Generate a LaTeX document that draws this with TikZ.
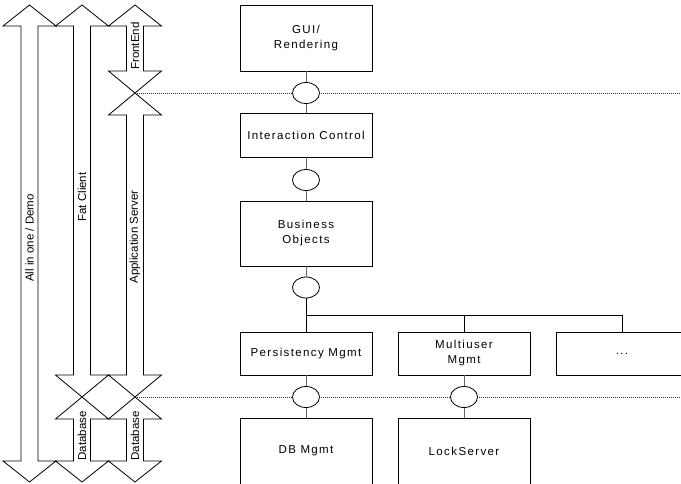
\documentclass[tikz,border=0pt]{standalone}
\usepackage{fontspec}
\setmainfont{Liberation Sans}
\newfontfamily\boxfont[LetterSpace=12]{Liberation Sans}
\newfontfamily\sidefont{Liberation Sans}
\usetikzlibrary{shapes.geometric}

\begin{document}
\begin{tikzpicture}[x=1pt,y=-1pt,
  layer/.style={draw=black, line width=0.8pt, minimum width=132pt, inner sep=0pt,
    align=center, font=\boxfont\fontsize{11.5}{15}\selectfont},
  port/.style={ellipse, draw=black, fill=white, line width=0.8pt,
    minimum width=27pt, minimum height=21pt, inner sep=0pt},
  link/.style={draw=black!60, line width=1pt},
  bus/.style={draw=black, line width=1pt},
  tier/.style={draw=black, line width=0.8pt, line join=miter},
  tierlabel/.style={rotate=90, inner sep=0pt, font=\sidefont\fontsize{11.5}{13}\selectfont},
  cut/.style={draw=black!80, line width=0.8pt, dash pattern=on 1pt off 1pt}
]
\useasboundingbox[fill=white] (0,0) rectangle (681,483);
\clip (0,0) rectangle (681,483);

% deployment tiers (double-headed arrows)
\draw[tier] (29.5,5) -- (56,26) -- (38,26) -- (38,461) -- (56,461) -- (29.5,482)
  -- (3,461) -- (21,461) -- (21,26) -- (3,26) -- cycle;
\draw[tier] (82,5) -- (108.5,26) -- (90.5,26) -- (90.5,375) -- (108.5,375) -- (82,397)
  -- (55.5,375) -- (73.5,375) -- (73.5,26) -- (55.5,26) -- cycle;
\draw[tier] (82,397) -- (108.5,419) -- (90.5,419) -- (90.5,461) -- (108.5,461) -- (82,482)
  -- (55.5,461) -- (73.5,461) -- (73.5,419) -- (55.5,419) -- cycle;
\draw[tier] (135,5) -- (161.5,26) -- (143.5,26) -- (143.5,71) -- (161.5,71) -- (135,93)
  -- (108.5,71) -- (126.5,71) -- (126.5,26) -- (108.5,26) -- cycle;
\draw[tier] (135,93) -- (161.5,115) -- (143.5,115) -- (143.5,375) -- (161.5,375) -- (135,397)
  -- (108.5,375) -- (126.5,375) -- (126.5,115) -- (108.5,115) -- cycle;
\draw[tier] (135,397) -- (161.5,419) -- (143.5,419) -- (143.5,461) -- (161.5,461) -- (135,482)
  -- (108.5,461) -- (126.5,461) -- (126.5,419) -- (108.5,419) -- cycle;

\node[tierlabel] (allinone) at (29.5,238) {All in one / Demo};
\node[tierlabel] (fat) at (82,197) {Fat Client};
\node[tierlabel] (front) at (135,46) {FrontEnd};
\node[tierlabel] (appsrv) at (135,237) {Application Server};
\node[tierlabel] (dbl) at (82,436) {Database};
\node[tierlabel] (dbr) at (135,436) {Database};

% tier boundaries
\coordinate (cutA) at (135,93);
\coordinate (cutAend) at (681,93);
\coordinate (cutB) at (135,397);
\coordinate (cutBend) at (681,397);
\draw[cut] (cutA) -- (cutAend);
\draw[cut] (cutB) -- (cutBend);

% layers
\node[layer, minimum height=66pt] (gui) at (306,38) {GUI/\\Rendering};
\node[layer, minimum height=44pt] (ic) at (306,135) {Interaction Control};
\node[layer, minimum height=65pt] (bo) at (306,233.5) {Business\\Objects};
\node[layer, minimum height=43pt] (pm) at (306,353.5) {Persistency Mgmt};
\node[layer, minimum height=43pt] (mu) at (464,353.5) {Multiuser\\Mgmt};
\node[layer, minimum height=43pt] (etc) at (622,353.5) {...};
\node[layer, minimum height=66pt] (db) at (306,451) {DB Mgmt};
\node[layer, minimum height=66pt] (ls) at (464,451) {LockServer};

% interfaces
\node[port] (p1) at (306,93) {};
\node[port] (p2) at (306,180) {};
\node[port] (p3) at (306,287.5) {};
\node[port] (p4) at (306,397) {};
\node[port] (p5) at (464,397) {};

\draw[link] (gui.south) -- (p1.north);
\draw[link] (p1.south) -- (ic.north);
\draw[link] (ic.south) -- (p2.north);
\draw[link] (p2.south) -- (bo.north);
\draw[link] (bo.south) -- (p3.north);
\draw[link] (pm.south) -- (p4.north);
\draw[link] (p4.south) -- (db.north);
\draw[link] (mu.south) -- (p5.north);
\draw[link] (p5.south) -- (ls.north);

\coordinate (j) at (306,315);
\draw[bus] (p3.south) -- (j) -- (j -| etc.north) -- (etc.north);
\draw[bus] (j -| mu.north) -- (mu.north);
\draw[bus] (j) -- (pm.north);
\end{tikzpicture}
\end{document}
